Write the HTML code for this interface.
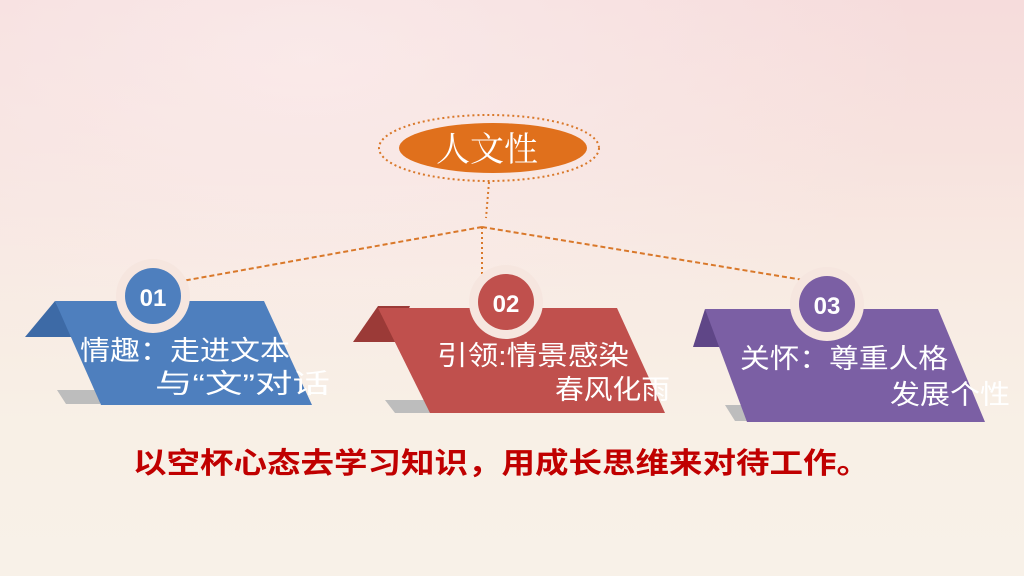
<!DOCTYPE html>
<html><head><meta charset="utf-8"><style>
html,body{margin:0;padding:0}
body{width:1024px;height:576px;overflow:hidden;position:relative;
background:linear-gradient(180deg,#f6dcdc 0%,#f7e2de 25%,#f8ebe3 50%,#f8f0e6 75%,#f8f1e8 100%);}
svg{position:absolute;left:0;top:0}
</style></head><body>
<svg width="1024" height="576" viewBox="0 0 1024 576" xmlns="http://www.w3.org/2000/svg">
<defs>
<radialGradient id="g1" cx="0.3" cy="0.1" r="0.6"><stop offset="0" stop-color="#fbeeee" stop-opacity="0.7"/><stop offset="1" stop-color="#fbeeee" stop-opacity="0"/></radialGradient>
</defs>
<rect width="1024" height="576" fill="url(#g1)"/>
<g stroke="#d9782a" stroke-width="2" fill="none">
<ellipse cx="489" cy="148" rx="110" ry="33" stroke-dasharray="2 3"/>
<line x1="489" y1="182" x2="486" y2="218" stroke-dasharray="2 3"/>
<line x1="482" y1="227" x2="160" y2="285" stroke-dasharray="5 3"/>
<line x1="482" y1="227" x2="852" y2="288" stroke-dasharray="5 3"/>
<line x1="482" y1="227" x2="482" y2="280" stroke-dasharray="2 3"/>
</g>
<ellipse cx="493" cy="148" rx="94" ry="25" fill="#e0701c"/>
<text x="487" y="161" font-family="Liberation Serif,'Noto Serif CJK SC',serif" font-size="34" fill="#fff" text-anchor="middle">人文性</text>

<polygon points="57,390 100,390 100,404 66,404" fill="#bdbdbd"/>
<polygon points="25,337 55,301 73,337" fill="#3d6aa6"/>
<polygon points="55,301 264,301 312,405 101,405" fill="#4e7fbe"/>
<circle cx="153" cy="296" r="37" fill="#f6e6df"/>
<circle cx="153" cy="296" r="28" fill="#4e7fbe"/>
<text x="153" y="306" font-family="Liberation Sans,sans-serif" font-weight="bold" font-size="24" fill="#fff" text-anchor="middle">01</text>
<g font-family="Liberation Sans,'Noto Sans CJK SC',sans-serif" font-size="27" fill="#fff">
<text x="80" y="360" textLength="210" lengthAdjust="spacingAndGlyphs">情趣：走进文本</text>
<text x="155" y="393" textLength="175" lengthAdjust="spacingAndGlyphs">与“文”对话</text>
</g>

<polygon points="385,400 430,400 430,413 395,413" fill="#bdbdbd"/>
<polygon points="353,342 378,306 410,306 395,342" fill="#9b3a37"/>
<polygon points="378,308 617,308 665,413 430,413" fill="#c0504d"/>
<circle cx="506" cy="302" r="37" fill="#f6e6df"/>
<circle cx="506" cy="302" r="28" fill="#c0504d"/>
<text x="506" y="312" font-family="Liberation Sans,sans-serif" font-weight="bold" font-size="24" fill="#fff" text-anchor="middle">02</text>
<g font-family="Liberation Sans,'Noto Sans CJK SC',sans-serif" font-size="27" fill="#fff">
<text x="437" y="365" textLength="192" lengthAdjust="spacingAndGlyphs">引领:情景感染</text>
<text x="555" y="399" textLength="115" lengthAdjust="spacingAndGlyphs">春风化雨</text>
</g>

<polygon points="725,405 747,405 747,421 735,421" fill="#bdbdbd"/>
<polygon points="693,347 705,309 725,347" fill="#5f4687"/>
<polygon points="705,309 938,309 985,422 747,422" fill="#7b5fa4"/>
<circle cx="827" cy="304" r="37" fill="#f6e6df"/>
<circle cx="827" cy="304" r="28" fill="#7b5fa4"/>
<text x="827" y="314" font-family="Liberation Sans,sans-serif" font-weight="bold" font-size="24" fill="#fff" text-anchor="middle">03</text>
<g font-family="Liberation Sans,'Noto Sans CJK SC',sans-serif" font-size="27" fill="#fff">
<text x="740" y="368" textLength="208" lengthAdjust="spacingAndGlyphs">关怀：尊重人格</text>
<text x="890" y="404" textLength="120" lengthAdjust="spacingAndGlyphs">发展个性</text>
</g>

<text x="133" y="473" font-family="Liberation Sans,'Noto Sans CJK SC',sans-serif" font-size="29" font-weight="bold" fill="#c00000" textLength="737" lengthAdjust="spacingAndGlyphs">以空杯心态去学习知识，用成长思维来对待工作。</text>
</svg>
</body></html>
